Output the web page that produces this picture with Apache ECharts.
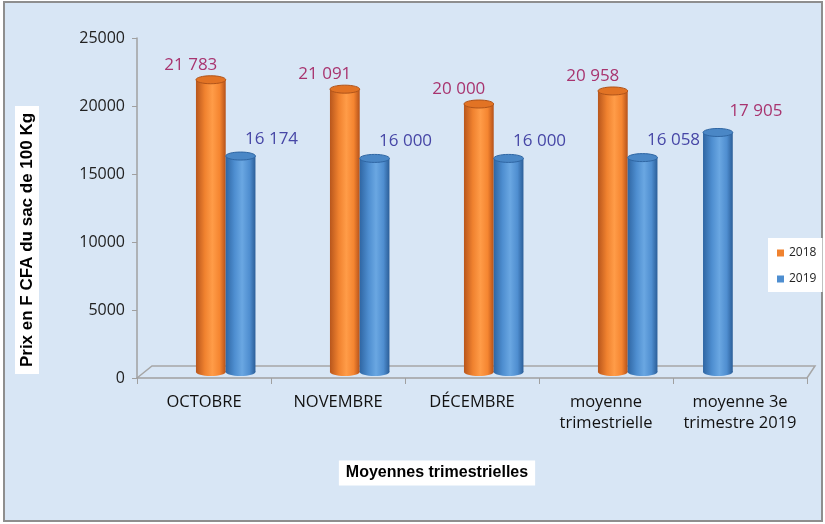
<!DOCTYPE html>
<html>
<head>
<meta charset="utf-8">
<script src="https://cdn.jsdelivr.net/npm/echarts@6/dist/echarts.min.js"></script>
<style>
html,body{margin:0;padding:0;background:#fff;}
#c{width:825px;height:524px;}
</style>
</head>
<body>
<div id="c"></div>
<script>
const categories = ['OCTOBRE', 'NOVEMBRE', 'DÉCEMBRE', 'moyenne\ntrimestrielle', 'moyenne 3e\ntrimestre 2019'];
const seriesNames = ['2018', '2019'];
const values2018 = [21783, 21091, 20000, 20958, null];
const values2019 = [16174, 16000, 16000, 16058, 17905];
const yMin = 0, yMax = 25000, yStep = 5000;

const FONT = '"Open Sans", "DejaVu Sans", sans-serif';
const BG = '#D8E6F5';
const LABEL_2018 = '#A8346F';
const LABEL_2019 = '#4646A6';

function fmt(v) { return String(v).replace(/\B(?=(\d{3})+(?!\d))/g, ' '); }

const palettes = {
  '2018': { stops: ['#B8561C', '#F0822F', '#FF9C48', '#F58530', '#B5521A'], top: '#E27324', topStroke: '#B0541A' },
  '2019': { stops: ['#2F66A3', '#4E8ED0', '#6AA7E2', '#4F8ED0', '#2B5E98'], top: '#4A87C6', topStroke: '#2F66A3' }
};

function grad(p) {
  return { type: 'linear', x: 0, y: 0, x2: 1, y2: 0, colorStops: [
    { offset: 0, color: p.stops[0] }, { offset: 0.3, color: p.stops[1] },
    { offset: 0.55, color: p.stops[2] }, { offset: 0.8, color: p.stops[3] }, { offset: 1, color: p.stops[4] }
  ]};
}

function makeRender(name) {
  return function (params, api) {
    const idx = api.value(0);
    const v = api.value(1);
    const top = api.coord([idx, v]);
    const base = api.coord([idx, 0]);
    const bw = api.size([1, 0])[0];
    const w = bw * 0.222;
    const solo = name === '2019' && values2018[idx] == null;
    let left;
    if (name === '2018') left = top[0] - bw * 0.06;
    else if (solo) left = top[0] - bw * 0.276;
    else left = top[0] + bw * 0.162;
    const p = palettes[name];
    const yTop = top[1] - 2;
    const yBot = base[1] - 6;
    const cx = left + w / 2;
    const ry = 4;
    let lx, ly, lc;
    if (name === '2018') { lx = cx - 20; ly = top[1] - 17; lc = LABEL_2018; }
    else if (solo) { lx = cx + 38; ly = top[1] - 23; lc = LABEL_2018; }
    else { lx = cx + 31; ly = top[1] - 19; lc = LABEL_2019; }
    return {
      type: 'group',
      children: [
        { type: 'ellipse', shape: { cx: cx, cy: yBot, rx: w / 2, ry: ry }, style: { fill: grad(p) } },
        { type: 'rect', shape: { x: left, y: yTop, width: w, height: yBot - yTop }, style: { fill: grad(p) } },
        { type: 'ellipse', shape: { cx: cx, cy: yTop, rx: w / 2, ry: ry }, style: { fill: p.top, stroke: p.topStroke, lineWidth: 1 } },
        { type: 'text', z2: 10, style: { text: fmt(v), x: lx, y: ly, align: 'center', verticalAlign: 'middle',
          textAlign: 'center', textVerticalAlign: 'middle', fill: lc, fontSize: 17, fontFamily: FONT } }
      ]
    };
  };
}

function toData(arr) {
  const out = [];
  arr.forEach(function (v, i) { if (v != null) out.push([i, v]); });
  return out;
}

const chart = echarts.init(document.getElementById('c'), null, { renderer: 'canvas' });
chart.setOption({
  backgroundColor: 'transparent',
  animation: false,
  grid: { left: 137, right: 18, top: 38, bottom: 146 },
  legend: {
    data: seriesNames, orient: 'vertical', left: 768, top: 238,
    backgroundColor: '#fff', padding: [9, 6, 7, 9], itemWidth: 7, itemHeight: 7, itemGap: 14,
    icon: 'rect', textStyle: { fontSize: 12, color: '#222', fontFamily: FONT }
  },
  xAxis: {
    type: 'category', data: categories,
    axisLine: { lineStyle: { color: '#A0A0A0', width: 1.5 } },
    axisTick: { show: true, length: 6, lineStyle: { color: '#A0A0A0' } },
    axisLabel: { interval: 0, hideOverlap: false, fontSize: 16.5, color: '#111', fontFamily: FONT, margin: 14, lineHeight: 21 },
    splitLine: { show: false }
  },
  yAxis: {
    type: 'value', min: yMin, max: yMax, interval: yStep,
    axisLine: { show: true, lineStyle: { color: '#A0A0A0', width: 1.5 } },
    axisTick: { show: true, length: 5, lineStyle: { color: '#A0A0A0' } },
    axisLabel: { fontSize: 16, color: '#222', fontFamily: FONT, margin: 12, formatter: function (v) { return String(v); } },
    splitLine: { show: false }
  },
  graphic: [
    { type: 'rect', z: -100, silent: true, shape: { x: 4, y: 2, width: 818, height: 519 },
      style: { fill: BG, stroke: '#8E8E8E', lineWidth: 2 } },
    { type: 'polyline', z: -50, silent: true,
      shape: { points: [[137, 378], [152, 366], [815, 366], [807, 378]] },
      style: { stroke: '#A6A6A6', lineWidth: 1.5, fill: null } },
    { type: 'text', silent: true, x: 27, y: 240, rotation: Math.PI / 2,
      style: { text: 'Prix en F CFA du sac de 100 Kg', align: 'center', verticalAlign: 'middle',
        font: 'bold 17px "Liberation Sans", sans-serif', fill: '#000', backgroundColor: '#fff', padding: [4, 7, 3, 7] } },
    { type: 'text', silent: true, x: 437, y: 473,
      style: { text: 'Moyennes trimestrielles', align: 'center', verticalAlign: 'middle',
        font: 'bold 16px "Liberation Sans", sans-serif', fill: '#000', backgroundColor: '#fff', padding: [5, 7, 4, 7] } }
  ],
  series: [
    { name: '2018', type: 'custom', renderItem: makeRender('2018'), data: toData(values2018),
      itemStyle: { color: '#F0822F' }, encode: { x: 0, y: 1 }, z: 3 },
    { name: '2019', type: 'custom', renderItem: makeRender('2019'), data: toData(values2019),
      itemStyle: { color: '#4E8ED0' }, encode: { x: 0, y: 1 }, z: 3 }
  ]
});
</script>
</body>
</html>
